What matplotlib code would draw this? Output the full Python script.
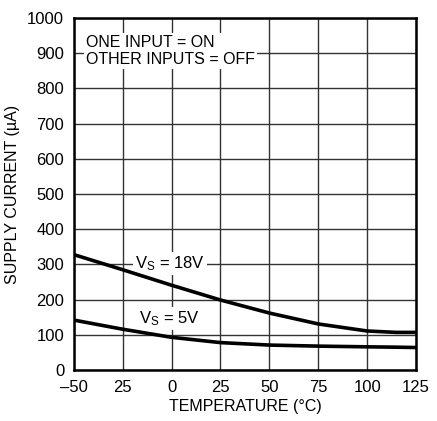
import matplotlib.pyplot as plt

plt.rcParams['font.family'] = ['Liberation Sans', 'DejaVu Sans']

temp = [-50, -25, 0, 25, 50, 75, 100, 115, 125]
i_18v = [328, 285, 241, 199, 162, 131, 111, 107, 107]
i_5v = [142, 116, 93, 78, 71, 68, 66, 65, 64]

xticks = [-50, -25, 0, 25, 50, 75, 100, 125]
xlabels = ['\u201350', '25', '0', '25', '50', '75', '100', '125']
yticks = list(range(0, 1001, 100))

fig = plt.figure(figsize=(4.37, 4.21), dpi=100)
ax = fig.add_axes([0.169, 0.121, 0.783, 0.836])

ax.plot(temp, i_18v, color='black', lw=2.6, solid_capstyle='butt', zorder=4)
ax.plot(temp, i_5v, color='black', lw=2.6, solid_capstyle='butt', zorder=4)

ax.set_xlim(-50, 125)
ax.set_ylim(0, 1000)
ax.set_xticks(xticks)
ax.set_xticklabels(xlabels)
ax.set_yticks(yticks)
ax.grid(True, color='#333333', lw=1.0)
ax.tick_params(length=0, labelsize=12, pad=7)
for s in ax.spines.values():
    s.set_linewidth(1.8)
    s.set_zorder(5)

ax.set_xlabel('TEMPERATURE (\u00b0C)', fontsize=11.5, labelpad=3)
ax.set_ylabel('SUPPLY CURRENT (\u00b5A)', fontsize=11.5, labelpad=5)

box = dict(facecolor='white', edgecolor='none', pad=1.5)
ax.text(-44, 907, 'ONE INPUT = ON\nOTHER INPUTS = OFF', fontsize=11.5,
        va='center', ha='left', linespacing=1.2, bbox=box)
ax.text(-1, 303, '$\\mathregular{V_S}$ = 18V', fontsize=12, ha='center', va='center', bbox=box)
ax.text(-1, 147, '$\\mathregular{V_S}$ = 5V', fontsize=12, ha='center', va='center', bbox=box)

fig.savefig('out.png', dpi=100)
